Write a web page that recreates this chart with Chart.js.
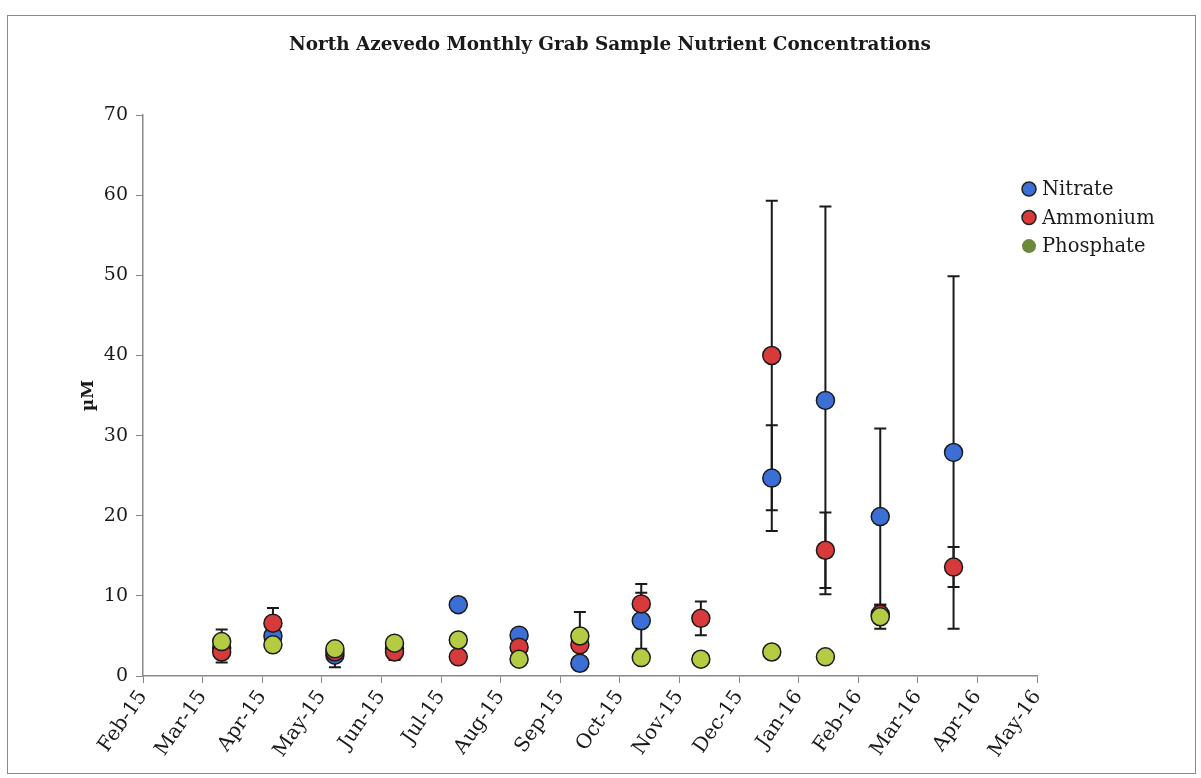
<!DOCTYPE html>
<html>
<head>
<meta charset="utf-8">
<script src="https://cdn.jsdelivr.net/npm/chart.js@4.4.1/dist/chart.umd.min.js"></script>
<style>
  body { margin: 0; background: #fff; }
  #frame { position: absolute; left: 7px; top: 15px; width: 1187px; height: 757px; border: 1px solid #8a8a8a; }
</style>
</head>
<body>
<div id="frame"><canvas id="nutrients" width="1187" height="757"></canvas></div>
<script>
// month tick labels, index 0 = Feb-15
const months = ['Feb-15','Mar-15','Apr-15','May-15','Jun-15','Jul-15','Aug-15',
  'Sep-15','Oct-15','Nov-15','Dec-15','Jan-16','Feb-16','Mar-16','Apr-16','May-16'];

// sampling dates, as fractional month index
const sampleX = [1.32, 2.18, 3.22, 4.22, 5.29, 6.31, 7.33, 8.36, 9.36, 10.55, 11.45, 12.37, 13.6];

const nitrate   = [3.5, 5.0, 2.6, 3.4, 8.9, 5.1, 1.6, 6.9, null, 24.7, 34.4, 19.9, 27.9];
const ammonium  = [3.0, 6.6, 3.0, 3.0, 2.4, 3.6, 3.9, 9.0, 7.2, 40.0, 15.7, 7.7, 13.6];
const phosphate = [4.3, 3.9, 3.4, 4.1, 4.5, 2.1, 5.0, 2.3, 2.1, 3.0, 2.4, 7.4, null];

// +/- error
const nitrateErr   = [0, 0, 1.5, 0, 0, 0, 0, 3.5, 0, 6.6, 24.2, 11.0, 22.0];
const ammoniumErr  = [1.3, 1.9, 0, 1.0, 0, 0, 0, 2.5, 2.1, 19.3, 4.7, 0.9, 2.5];
const phosphateErr = [1.5, 0, 0, 0, 0, 0, 3.0, 0, 0, 0, 0, 1.5, 0];

const serif = "'DejaVu Serif', serif";

function pts(vals) {
  const out = [];
  vals.forEach((v, i) => { if (v !== null) out.push({ x: sampleX[i], y: v }); });
  return out;
}

const errors = [nitrateErr, ammoniumErr, phosphateErr];
const series = [nitrate, ammonium, phosphate];
const legendColors = ['#3b6fd6', '#d63a3a', '#6b8a3c'];

const errorBars = {
  id: 'errorBars',
  beforeDatasetsDraw(chart) {
    const ctx = chart.ctx, xs = chart.scales.x, ys = chart.scales.y;
    ctx.save();
    ctx.strokeStyle = '#1a1a1a';
    ctx.lineWidth = 2;
    series.forEach((vals, s) => {
      vals.forEach((v, i) => {
        const e = errors[s][i];
        if (v === null || !e) return;
        const px = xs.getPixelForValue(sampleX[i]);
        const top = ys.getPixelForValue(v + e);
        const bot = ys.getPixelForValue(Math.max(0, v - e));
        ctx.beginPath();
        ctx.moveTo(px, top); ctx.lineTo(px, bot);
        ctx.moveTo(px - 6, top); ctx.lineTo(px + 6, top);
        ctx.moveTo(px - 6, bot); ctx.lineTo(px + 6, bot);
        ctx.stroke();
      });
    });
    ctx.restore();
  }
};

const sideLegend = {
  id: 'sideLegend',
  afterDraw(chart) {
    const ctx = chart.ctx, area = chart.chartArea;
    ctx.save();
    ctx.font = '19.5px ' + serif;
    ctx.textBaseline = 'middle';
    chart.data.datasets.forEach((ds, i) => {
      const x = area.right - 8, y = area.top + 74 + i * 28.5;
      ctx.beginPath();
      ctx.arc(x, y, 7, 0, Math.PI * 2);
      ctx.fillStyle = legendColors[i];
      ctx.fill();
      if (i < 2) { ctx.lineWidth = 1.5; ctx.strokeStyle = '#222'; ctx.stroke(); }
      ctx.fillStyle = '#1a1a1a';
      ctx.fillText(ds.label, x + 13, y + 1);
    });
    ctx.restore();
  }
};

new Chart(document.getElementById('nutrients'), {
  type: 'scatter',
  data: {
    datasets: [
      { label: 'Nitrate', data: pts(nitrate), backgroundColor: '#3b6fd6', order: 3 },
      { label: 'Ammonium', data: pts(ammonium), backgroundColor: '#d63a3a', order: 2 },
      { label: 'Phosphate', data: pts(phosphate), backgroundColor: '#b4cc44', order: 1 }
    ]
  },
  options: {
    responsive: false,
    animation: false,
    elements: { point: { radius: 9, hoverRadius: 9, borderWidth: 1.5, borderColor: '#1a1a1a' } },
    layout: { padding: { left: 17, right: 0, top: 0, bottom: 8 } },
    plugins: {
      legend: { display: false },
      tooltip: { enabled: false },
      title: {
        display: true,
        text: 'North Azevedo Monthly Grab Sample Nutrient Concentrations',
        color: '#1a1a1a',
        font: { family: serif, size: 18.4, weight: 'bold' },
        padding: { top: 18, bottom: 59 }
      }
    },
    scales: {
      x: {
        type: 'linear', min: 0, max: 15,
        border: { color: '#888', width: 1.5 },
        grid: { drawOnChartArea: false, tickLength: 7, color: '#888' },
        ticks: {
          stepSize: 1, autoSkip: false, minRotation: 55, maxRotation: 55,
          color: '#1a1a1a', font: { family: serif, size: 20 },
          callback: (v) => months[v]
        }
      },
      y: {
        min: 0, max: 70,
        border: { color: '#888', width: 1.5 },
        grid: { drawOnChartArea: false, tickLength: 7, color: '#888' },
        ticks: { stepSize: 10, color: '#1a1a1a', font: { family: serif, size: 19 }, padding: 8 },
        title: { display: true, text: 'µM', color: '#1a1a1a', font: { family: serif, size: 17, weight: 'bold' }, padding: { top: 53, bottom: 4 } },
        afterFit(scale) { scale.width = 118; }
      },
      yRight: {
        position: 'right', display: true,
        grid: { display: false }, border: { display: false },
        ticks: { display: false },
        afterFit(scale) { scale.width = 158; }
      }
    }
  },
  plugins: [errorBars, sideLegend]
});
</script>
</body>
</html>
